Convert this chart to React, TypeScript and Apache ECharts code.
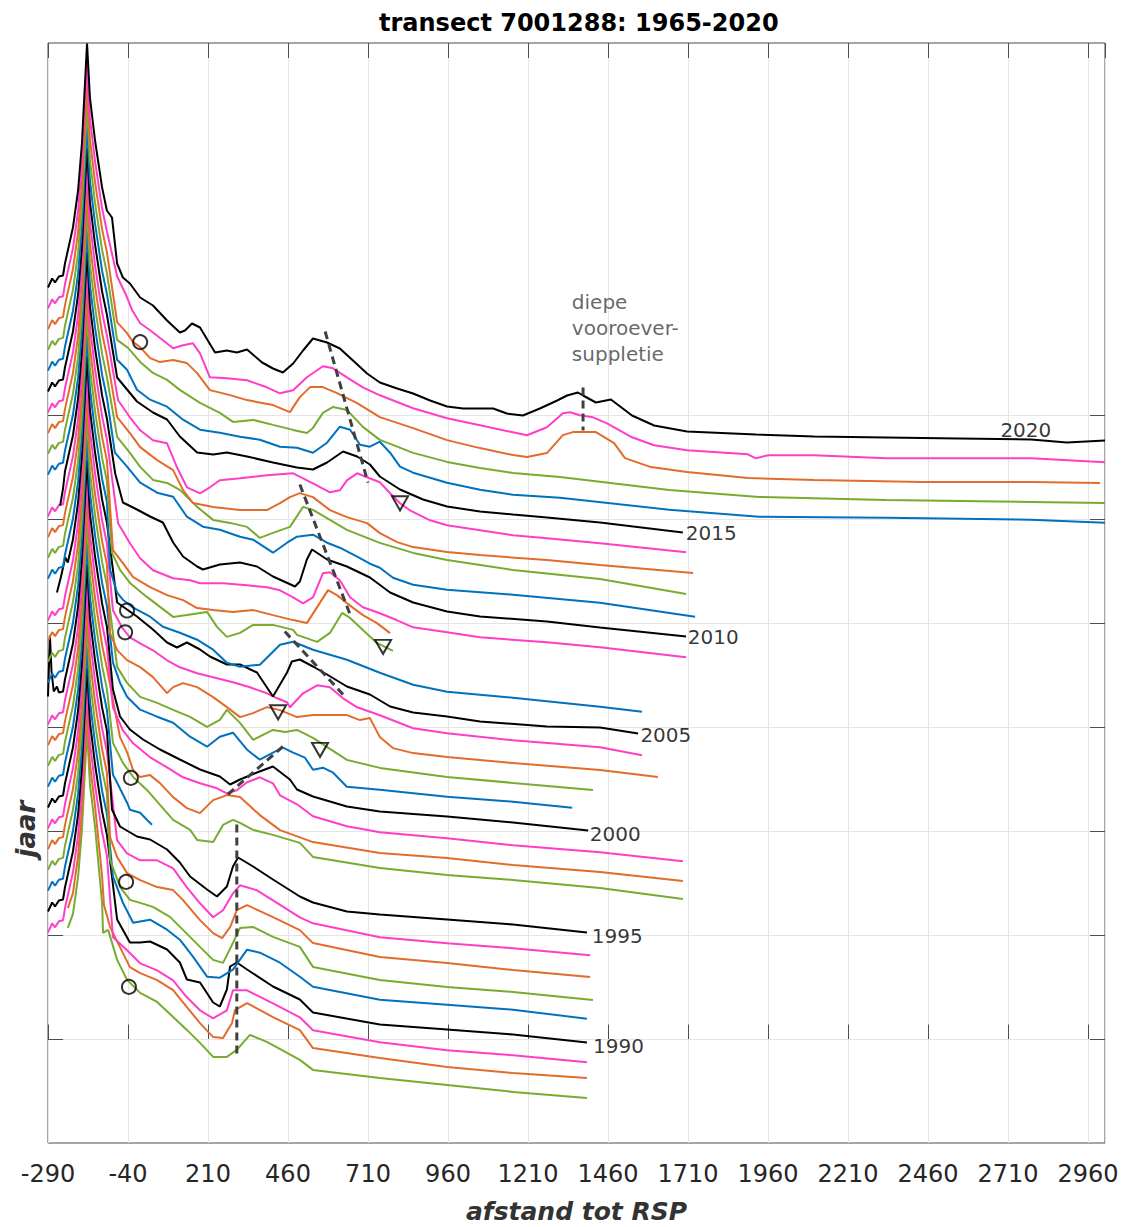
import React, { useEffect, useRef } from 'react';
import * as echarts from 'echarts';

// ---------- axis / layout constants ----------
const X_MIN = -290;
const X_MAX = 3013;
const X_INTERVAL = 250;
const YEAR_STEP = 20.8; // vertical offset between successive years (plot units)
const Y_MIN = -103.5;
const Y_MAX = 996.5;
const GRID_YEARS = [1990, 1995, 2000, 2005, 2010, 2015, 2020];
const YEARS = [1987, 1988, 1989, 1990, 1991, 1992, 1993, 1994, 1995, 1996, 1997, 1998, 1999, 2000, 2001, 2002, 2003, 2004,
  2005, 2006, 2007, 2008, 2009, 2010, 2011, 2012, 2013, 2014, 2015, 2016, 2017, 2018, 2019, 2020];

// ---------- data: [distance to RSP, scaled height] ----------
const DUNE: [number, number][] = [[-290, 128], [-277, 137], [-268, 133], [-256, 139], [-243, 140], [-237, 152], [-228, 165], [-212, 188], [-196, 225], [-184, 272], [-174, 335], [-168, 372], [-159, 318], [-143, 275], [-121, 228], [-106, 205]];

const START_OVERRIDE: Record<number, [number, number][]> = {
  1987: [[-228, 174]],
  1988: [[-228, 173]],
  2000: [[-290, 135], [-284, 196], [-279, 160], [-272, 140], [-262, 145]],
  2005: [[-262, 135], [-250, 150], [-236, 170]],
  2010: [[-252, 118], [-243, 135]],
};

const P2020: [number, number][] = [[-90, 198], [-74, 152], [-56, 138], [-34, 132], [-2, 118], [38, 110], [82, 95], [122, 83], [138, 85], [160, 92], [185, 88], [232, 63], [269, 65], [300, 63], [332, 66], [379, 53], [413, 47], [444, 43], [476, 52], [507, 65], [538, 77], [582, 73], [622, 67], [663, 55], [707, 42], [747, 33], [801, 27], [851, 22], [904, 15], [957, 9], [1007, 7], [1101, 7], [1144, 2], [1194, 0], [1247, 7], [1301, 15], [1332, 20], [1366, 23], [1382, 20], [1422, 13], [1469, 16], [1535, 0], [1604, -10], [1707, -16], [1922, -19], [2104, -21], [2329, -22], [2557, -23], [2782, -24], [2894, -27], [3013, -25]];
const P2019: [number, number][] = [[-74, 160], [-43, 139], [-27, 126], [-2, 113], [29, 106], [69, 96], [101, 88], [132, 91], [163, 93], [185, 83], [216, 59], [269, 58], [332, 56], [394, 49], [435, 43], [476, 46], [519, 59], [569, 70], [601, 68], [644, 59], [694, 49], [747, 41], [851, 28], [957, 18], [1060, 11], [1163, 4], [1207, 1], [1269, 9], [1319, 23], [1341, 24], [1372, 21], [1413, 19], [1457, 13], [1535, -1], [1604, -9], [1707, -14], [1897, -18], [1922, -22], [1960, -19], [2104, -19], [2329, -22], [2782, -22], [3013, -26]];
const P2018: [number, number][] = [[-74, 135], [-43, 124], [-24, 115], [-2, 110], [29, 99], [60, 95], [101, 97], [144, 94], [176, 84], [216, 67], [279, 62], [332, 57], [413, 52], [466, 45], [497, 60], [529, 70], [569, 70], [613, 64], [676, 54], [747, 40], [851, 29], [957, 17], [1060, 9], [1163, 2], [1207, 0], [1269, 4], [1319, 22], [1350, 25], [1394, 25], [1422, 25], [1479, 14], [1513, -1], [1594, -10], [1707, -15], [1897, -21], [2104, -23], [2441, -25], [2782, -25], [2997, -26]];
const P2017: [number, number][] = [[-74, 138], [-40, 130], [-2, 116], [38, 105], [82, 98], [122, 88], [185, 75], [247, 65], [288, 56], [351, 58], [413, 53], [476, 48], [519, 45], [538, 50], [569, 65], [601, 71], [644, 68], [694, 51], [747, 38], [851, 25], [957, 16], [1060, 10], [1163, 5], [1310, 1], [1651, -12], [1932, -19], [2329, -22], [2782, -24], [3013, -25]];
const P2016: [number, number][] = [[-74, 139], [-43, 129], [-12, 109], [29, 99], [82, 92], [132, 79], [185, 69], [247, 66], [310, 62], [372, 59], [435, 52], [488, 51], [538, 46], [582, 56], [622, 72], [654, 69], [685, 54], [716, 52], [747, 57], [779, 46], [810, 32], [851, 26], [957, 16], [1060, 9], [1163, 4], [1310, 1], [1651, -11], [1932, -18], [2329, -19], [2782, -21], [3013, -24]];
const P2015: [number, number][] = [[-74, 142], [-43, 130], [-12, 118], [38, 107], [82, 100], [122, 83], [176, 67], [226, 65], [269, 67], [332, 63], [413, 57], [488, 52], [538, 50], [582, 57], [632, 68], [676, 63], [716, 55], [747, 43], [810, 30], [882, 20], [957, 13], [1060, 8], [1163, 5], [1269, 2], [1435, -3], [1694, -13]];
const P2014: [number, number][] = [[-71, 140], [-34, 123], [-2, 110], [38, 100], [82, 97], [113, 73], [144, 53], [185, 47], [216, 53], [247, 60], [310, 62], [394, 65], [476, 67], [538, 57], [591, 48], [622, 50], [644, 60], [676, 67], [707, 63], [747, 58], [779, 47], [810, 37], [841, 30], [904, 20], [957, 15], [1060, 10], [1163, 5], [1269, 2], [1435, -3], [1704, -12]];
const P2013: [number, number][] = [[-74, 144], [-34, 128], [-2, 114], [51, 101], [101, 91], [132, 71], [163, 58], [226, 54], [310, 51], [394, 51], [435, 58], [466, 64], [497, 68], [538, 64], [591, 51], [644, 44], [707, 38], [747, 28], [801, 19], [851, 14], [957, 9], [1060, 6], [1269, 1], [1435, -4], [1726, -12]];
const P2012: [number, number][] = [[-74, 145], [-34, 129], [-2, 115], [38, 102], [82, 99], [122, 92], [176, 75], [226, 62], [279, 59], [332, 55], [372, 44], [413, 49], [466, 55], [507, 75], [538, 72], [591, 62], [644, 52], [747, 39], [851, 29], [957, 22], [1163, 12], [1435, 3], [1704, -12]];
const P2011: [number, number][] = [[-81, 150], [-43, 136], [-2, 120], [51, 110], [101, 106], [144, 86], [194, 76], [247, 73], [310, 66], [351, 63], [413, 50], [457, 60], [488, 66], [538, 68], [582, 60], [622, 55], [676, 46], [716, 39], [747, 35], [788, 25], [851, 18], [957, 13], [1163, 8], [1435, 0], [1732, -14]];
const P2010: [number, number][] = [[-80, 150], [-56, 121], [-12, 114], [29, 107], [69, 101], [101, 81], [132, 67], [176, 57], [194, 54], [247, 59], [310, 61], [363, 57], [413, 47], [482, 37], [497, 42], [519, 64], [535, 74], [582, 64], [644, 57], [716, 46], [779, 31], [851, 21], [957, 12], [1060, 7], [1269, 2], [1435, -4], [1704, -13]];
const P2009: [number, number][] = [[-71, 121], [-34, 101], [-2, 86], [38, 74], [101, 66], [154, 64], [185, 61], [257, 61], [332, 59], [394, 57], [435, 54], [476, 47], [507, 41], [538, 47], [569, 71], [591, 72], [622, 64], [654, 47], [694, 37], [747, 31], [801, 24], [851, 17], [957, 12], [1060, 7], [1269, 2], [1435, -3], [1704, -13]];
const P2008: [number, number][] = [[-87, 115], [-56, 102], [-24, 88], [29, 78], [82, 70], [132, 65], [176, 57], [226, 55], [288, 53], [351, 55], [413, 50], [476, 45], [519, 42], [551, 58], [585, 75], [613, 70], [644, 62], [694, 50], [738, 42], [779, 32]];
const P2007: [number, number][] = [[-90, 133], [-65, 116], [-34, 103], [19, 89], [60, 79], [101, 69], [144, 71], [207, 74], [238, 59], [269, 49], [310, 53], [351, 61], [413, 61], [476, 56], [488, 51], [551, 44], [591, 53], [629, 73], [654, 68], [694, 56], [738, 43], [788, 35]];
const P2006: [number, number][] = [[-96, 137], [-74, 114], [-56, 107], [-24, 99], [29, 90], [69, 80], [122, 74], [176, 67], [226, 57], [269, 44], [310, 40], [372, 42], [435, 62], [476, 65], [538, 57], [644, 47], [747, 34], [851, 22], [957, 15], [1163, 9], [1435, 0], [1566, -5]];
const P2005: [number, number][] = [[-74, 125], [-12, 111], [38, 98], [82, 85], [113, 80], [144, 85], [185, 78], [216, 71], [269, 63], [310, 63], [363, 55], [413, 31], [457, 55], [472, 66], [497, 68], [538, 61], [582, 53], [644, 41], [716, 33], [779, 21], [851, 15], [957, 11], [1060, 6], [1269, 1], [1435, 0], [1554, -6]];
const P2004: [number, number][] = [[-87, 138], [-59, 121], [-34, 111], [-2, 105], [38, 98], [82, 88], [122, 81], [176, 75], [226, 71], [288, 66], [341, 61], [394, 55], [426, 50], [457, 46], [466, 41], [507, 55], [551, 63], [591, 61], [632, 50], [676, 41], [747, 33], [851, 20], [957, 15], [1163, 8], [1435, 1], [1566, -7]];
const P2003: [number, number][] = [[-96, 136], [-74, 119], [-43, 109], [-2, 102], [38, 92], [82, 76], [101, 82], [132, 86], [176, 82], [226, 72], [269, 62], [310, 52], [351, 56], [394, 62], [435, 59], [488, 52], [538, 54], [644, 54], [685, 49], [716, 51], [747, 32], [788, 21], [851, 16], [957, 12], [1163, 6], [1435, -1], [1616, -8]];
const P2002: [number, number][] = [[-74, 123], [-43, 107], [-2, 93], [51, 87], [101, 80], [154, 73], [207, 63], [247, 70], [269, 80], [310, 67], [351, 50], [413, 60], [451, 58], [488, 60], [538, 52], [644, 30], [747, 22], [957, 13], [1163, 7], [1413, 0]];
const P2001: [number, number][] = [[-87, 148], [-65, 128], [-43, 114], [-2, 101], [51, 94], [101, 88], [154, 74], [207, 64], [247, 74], [288, 78], [332, 61], [372, 51], [413, 58], [444, 63], [476, 58], [513, 53], [538, 41], [569, 43], [601, 38], [644, 24], [747, 21], [957, 14], [1163, 9], [1348, 3]];
const P2000: [number, number][] = [[-87, 142], [-65, 115], [-34, 102], [7, 92], [60, 82], [122, 72], [185, 62], [247, 55], [279, 47], [310, 52], [363, 59], [413, 65], [466, 52], [488, 42], [538, 35], [644, 25], [747, 20], [957, 15], [1163, 9], [1398, 1]];
const P1999: [number, number][] = [[-87, 145], [-56, 122], [-24, 109], [29, 95], [82, 85], [132, 75], [185, 69], [238, 64], [269, 59], [300, 62], [332, 70], [372, 75], [413, 69], [435, 57], [488, 48], [538, 36], [644, 26], [747, 20], [957, 14], [1163, 7], [1435, 0], [1694, -9]];
const P1998: [number, number][] = [[-65, 136], [-43, 121], [-24, 103], [-2, 96], [29, 98], [60, 90], [101, 76], [144, 65], [185, 60], [226, 73], [269, 78], [310, 76], [372, 58], [435, 43], [538, 31], [747, 20], [957, 15], [1163, 8], [1435, 1], [1694, -8]];
const P1997: [number, number][] = [[-87, 151], [-56, 131], [-24, 117], [19, 104], [60, 89], [101, 74], [154, 64], [176, 54], [226, 52], [257, 69], [288, 74], [310, 71], [351, 64], [413, 59], [497, 51], [538, 37], [747, 26], [957, 19], [1163, 14], [1435, 6], [1694, -5]];
const P1996: [number, number][] = [[-87, 140], [-74, 132], [-43, 112], [-34, 105], [-2, 102], [19, 95], [35, 90]];
const P1995: [number, number][] = [[-90, 126], [-65, 109], [-12, 99], [29, 96], [82, 86], [122, 73], [154, 59], [207, 46], [238, 39], [269, 49], [288, 69], [304, 78], [351, 69], [413, 56], [497, 39], [538, 33], [644, 24], [747, 21], [957, 16], [1163, 11], [1394, 3]];
const P1994: [number, number][] = [[-74, 116], [-43, 103], [-2, 96], [51, 96], [101, 88], [144, 69], [185, 53], [226, 39], [257, 46], [288, 63], [310, 71], [363, 66], [413, 56], [497, 39], [538, 33], [747, 19], [957, 13], [1163, 8], [1404, 1]];
const P1993: [number, number][] = [[-96, 140], [-74, 120], [-43, 104], [-2, 97], [51, 90], [101, 87], [132, 77], [185, 57], [226, 44], [254, 39], [279, 50], [300, 67], [332, 72], [413, 60], [497, 47], [538, 34], [747, 20], [957, 14], [1163, 7], [1404, 0]];
const P1992: [number, number][] = [[-96, 138], [-65, 111], [-34, 98], [-2, 95], [38, 91], [91, 81], [132, 68], [185, 51], [226, 38], [257, 35], [288, 55], [310, 70], [351, 71], [413, 61], [497, 51], [538, 31], [747, 18], [957, 11], [1163, 6], [1413, -2]];
const P1991: [number, number][] = [[-87, 142], [-56, 116], [-24, 96], [29, 99], [82, 89], [122, 79], [163, 62], [207, 42], [247, 41], [288, 49], [332, 69], [372, 66], [435, 56], [497, 42], [538, 32], [747, 19], [957, 14], [1163, 9], [1394, 0]];
const P1990: [number, number][] = [[-74, 120], [-34, 97], [-2, 97], [29, 98], [82, 90], [122, 77], [144, 60], [185, 57], [226, 37], [247, 33], [269, 50], [279, 73], [300, 77], [332, 70], [413, 53], [497, 40], [538, 27], [747, 15], [957, 10], [1163, 5], [1394, -3]];
const P1989: [number, number][] = [[-87, 123], [-43, 110], [-2, 97], [51, 90], [101, 80], [144, 63], [185, 50], [226, 42], [269, 50], [288, 70], [332, 70], [413, 57], [497, 43], [538, 30], [747, 18], [957, 10], [1163, 5], [1394, -2]];
const P1988: [number, number][] = [[-121, 205], [-115, 176], [-96, 154], [-65, 134], [-34, 114], [-2, 108], [51, 101], [101, 91], [144, 74], [185, 58], [226, 44], [257, 43], [285, 58], [294, 71], [332, 78], [413, 64], [497, 51], [538, 33], [747, 23], [957, 14], [1163, 8], [1394, 3]];
const P1987: [number, number][] = [[-121, 199], [-118, 169], [-102, 172], [-74, 142], [-43, 122], [-2, 109], [51, 100], [101, 85], [144, 72], [185, 59], [226, 45], [269, 45], [300, 52], [341, 67], [394, 60], [457, 49], [497, 42], [538, 32], [747, 24], [957, 17], [1163, 10], [1394, 4]];

const PROFILES: Record<number, [number, number][]> = {
  1987: P1987, 1988: P1988, 1989: P1989, 1990: P1990, 1991: P1991, 1992: P1992, 1993: P1993, 1994: P1994,
  1995: P1995, 1996: P1996, 1997: P1997, 1998: P1998, 1999: P1999, 2000: P2000, 2001: P2001, 2002: P2002,
  2003: P2003, 2004: P2004, 2005: P2005, 2006: P2006, 2007: P2007, 2008: P2008, 2009: P2009, 2010: P2010,
  2011: P2011, 2012: P2012, 2013: P2013, 2014: P2014, 2015: P2015, 2016: P2016, 2017: P2017, 2018: P2018,
  2019: P2019, 2020: P2020,
};

// annotations: [x, year, height]
const CIRCLES: [number, number, number][] = [[-2, 2018, 115], [-43, 2005, 117], [-49, 2004, 116], [-31, 1997, 116], [-46, 1992, 116], [-37, 1987, 115]];
const TRIANGLES: [number, number, number][] = [[810, 2014, 37], [757, 2007, 39], [429, 2004, 36], [560, 2002, 40]];
const DASHED: [number, number, number, number, number, number][] = [
  [576, 2020, 84, 710, 2016, 16],
  [497, 2015, 35, 654, 2010, 9],
  [450, 2005, 96, 632, 2005, 33],
  [272, 2000, 37, 451, 2000, 87],
  [300, 1995, 111, 300, 1990, -16],
  [1382, 2020, 28, 1382, 2020, -15],
];
const YEAR_LABELS: [string, number, number, number][] = [
  ['2020', 2683, 2020, -14], ['2015', 1700, 2015, -13], ['2010', 1706, 2010, -13], ['2005', 1558, 2005, -7],
  ['2000', 1400, 2000, -2], ['1995', 1406, 1995, 0], ['1990', 1410, 1990, -6],
];
const NOTE: [string, number, number, number] = ['diepe\nvooroever-\nsuppletie', 1347, 2020, 88];

const COLORS: Record<number, string> = { 0: '#000000', 1: '#0072bd', 2: '#77ac30', 3: '#e36b2b', 4: '#ff3ec8' };
const FONT = "'DejaVu Sans', sans-serif";

const base = (year: number) => (year - 1990) * YEAR_STEP;

function buildLine(year: number): number[][] {
  const own = PROFILES[year];
  const firstX = own[0][0];
  let lead = DUNE.filter((p) => p[0] < firstX);
  const start = START_OVERRIDE[year];
  if (start) {
    const lastX = start[start.length - 1][0];
    lead = [...start, ...lead.filter((p) => p[0] > lastX)];
  }
  return [...lead, ...own].map(([x, z]) => [x, base(year) + z]);
}

function buildOption() {
  const tickLen = 47;
  const series: any[] = [];

  series.push({
    type: 'line', data: [], silent: true, z: 1,
    markLine: {
      silent: true, symbol: ['none', 'none'], label: { show: false }, z: 1, animation: false,
      lineStyle: { color: '#e5e5e5', width: 1, type: 'solid' },
      data: GRID_YEARS.map((y) => ({ yAxis: base(y) })),
    },
  });
  series.push({
    type: 'line', data: [], silent: true, z: 1,
    markLine: {
      silent: true, symbol: ['none', 'none'], label: { show: false }, z: 1, animation: false,
      lineStyle: { color: '#4d4d4d', width: 1, type: 'solid' },
      data: GRID_YEARS.flatMap((y) => [
        [{ coord: [X_MIN, base(y)] }, { coord: [X_MIN + tickLen, base(y)] }],
        [{ coord: [X_MAX - tickLen, base(y)] }, { coord: [X_MAX, base(y)] }],
      ]),
    },
  });

  YEARS.forEach((year) => {
    series.push({
      type: 'line', name: String(year), data: buildLine(year), showSymbol: false, symbol: 'none', z: 2,
      lineStyle: { color: COLORS[year % 5], width: 2 }, silent: true,
    });
  });

  DASHED.forEach(([x1, y1, z1, x2, y2, z2]) => {
    series.push({
      type: 'line', data: [[x1, base(y1) + z1], [x2, base(y2) + z2]], showSymbol: false, symbol: 'none', z: 3,
      lineStyle: { color: '#404040', width: 3, type: [8, 5] }, silent: true,
    });
  });

  series.push({
    type: 'scatter', z: 4, symbol: 'circle', symbolSize: 14, silent: true,
    itemStyle: { color: 'rgba(0,0,0,0)', borderColor: '#000', borderWidth: 2 },
    data: CIRCLES.map(([x, y, z]) => [x, base(y) + z]),
  });
  series.push({
    type: 'scatter', z: 4, symbol: 'triangle', symbolRotate: 180, symbolSize: [16, 14], silent: true,
    itemStyle: { color: 'rgba(0,0,0,0)', borderColor: '#000', borderWidth: 2 },
    data: TRIANGLES.map(([x, y, z]) => [x, base(y) + z]),
  });

  series.push({
    type: 'scatter', z: 5, symbolSize: 0, silent: true,
    data: YEAR_LABELS.map(([t, x, y, z]) => ({
      value: [x, base(y) + z],
      label: { show: true, position: 'right', distance: 1, formatter: t, fontFamily: FONT, fontSize: 20, color: '#000' },
    })).concat([{
      value: [NOTE[1], base(NOTE[2]) + NOTE[3]],
      label: { show: true, position: 'right', distance: 0, formatter: NOTE[0], fontFamily: FONT, fontSize: 20, color: '#404040', lineHeight: 26, align: 'left' } as any,
    }]),
  });

  const xCommon = {
    type: 'value', min: X_MIN, max: X_MAX, interval: X_INTERVAL,
    axisLine: { show: false },
    axisTick: { show: true, inside: true, length: 15, lineStyle: { color: '#4d4d4d', width: 1 } },
  };

  return {
    animation: false,
    backgroundColor: '#ffffff',
    title: {
      text: 'transect 7001288: 1965-2020', left: 374, top: 6,
      textStyle: { fontFamily: FONT, fontWeight: 'bold', fontSize: 24, color: '#000' },
    },
    grid: { left: 48, right: 27, top: 43, bottom: 84, show: true, borderColor: '#4d4d4d', borderWidth: 1, backgroundColor: 'transparent', outerBoundsMode: 'none' },
    xAxis: [
      {
        ...xCommon, position: 'bottom',
        axisLabel: {
          show: true, fontFamily: FONT, fontSize: 24, color: '#262626', margin: 19, showMaxLabel: false,
          formatter: (v: number) => String(Math.round(v)),
        },
        splitLine: { show: true, lineStyle: { color: '#e5e5e5', width: 1 } },
        name: 'afstand tot RSP', nameLocation: 'middle', nameGap: 56,
        nameTextStyle: { fontFamily: FONT, fontWeight: 'bold', fontStyle: 'italic', fontSize: 25, color: '#333' },
      },
      { ...xCommon, position: 'top', axisLabel: { show: false }, splitLine: { show: false } },
    ],
    yAxis: [{
      type: 'value', min: Y_MIN, max: Y_MAX,
      axisLine: { show: false }, axisTick: { show: false }, axisLabel: { show: false }, splitLine: { show: false },
    }],
    graphic: [{
      type: 'text', x: 26, y: 829, rotation: Math.PI / 2, silent: true,
      style: { text: 'jaar', fill: '#333', fontFamily: FONT, fontWeight: 'bold', fontStyle: 'italic', fontSize: 26, align: 'center', verticalAlign: 'middle' },
    }],
    series,
  };
}

export default function App() {
  const ref = useRef<HTMLDivElement>(null);
  useEffect(() => {
    if (!ref.current) return;
    const chart = echarts.init(ref.current, null, { renderer: 'svg' });
    chart.setOption(buildOption() as any);
    return () => chart.dispose();
  }, []);
  return <div ref={ref} style={{ position: 'absolute', left: 0, top: 0, width: 1132, height: 1227, background: '#fff' }} />;
}
